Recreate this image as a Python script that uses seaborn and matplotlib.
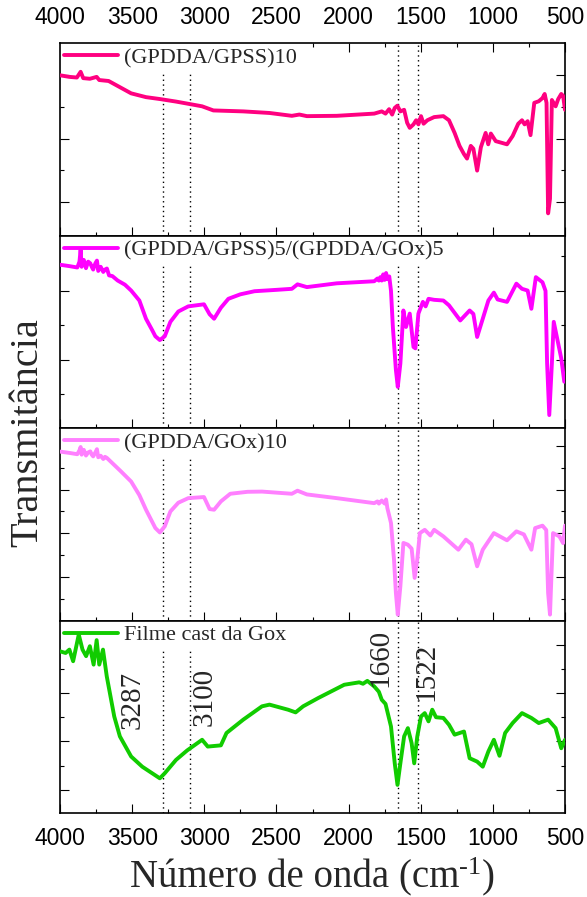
import matplotlib
matplotlib.use("Agg")
import matplotlib.pyplot as plt
import seaborn as sns
import pandas as pd
from matplotlib.ticker import MultipleLocator, FixedLocator

# ---- FTIR spectra (wavenumber in cm^-1, transmittance in arbitrary units) ----
wn_gpss10 = [4000, 3935, 3883, 3857, 3839, 3793, 3746, 3728, 3663, 3611, 3507, 3404,
             3308, 3196, 3111, 3015, 2937, 2730, 2548, 2393, 2341, 2289, 2082, 1822,
             1770, 1744, 1719, 1698, 1680, 1662, 1641, 1615, 1594, 1576, 1550, 1532,
             1516, 1498, 1480, 1454, 1407, 1343, 1304, 1265, 1231, 1200, 1179, 1153,
             1135, 1109, 1083, 1050, 1032, 1014, 980, 902, 863, 824, 798, 780, 759,
             739, 713, 682, 656, 641, 628, 617, 604, 591, 565, 547, 526, 513, 500]
t_gpss10 = [5.00, 4.95, 4.93, 5.11, 4.91, 4.89, 4.95, 4.85, 4.82, 4.69, 4.43, 4.31,
            4.25, 4.17, 4.10, 4.02, 3.89, 3.86, 3.81, 3.72, 3.76, 3.71, 3.72, 3.79,
            3.86, 3.79, 3.93, 3.76, 3.97, 4.04, 3.86, 3.91, 3.50, 3.34, 3.45, 3.58,
            3.45, 3.71, 3.47, 3.58, 3.68, 3.71, 3.58, 3.18, 2.77, 2.51, 2.37, 2.77,
            2.68, 1.99, 2.73, 3.18, 2.82, 3.16, 2.92, 2.82, 3.08, 3.47, 3.58, 3.45,
            3.55, 3.11, 4.13, 4.18, 4.28, 4.41, 4.13, 0.64, 1.10, 4.22, 4.02, 4.25,
            4.41, 4.35, 3.91]

wn_mixed = [4000, 3935, 3880, 3865, 3857, 3850, 3835, 3820, 3805, 3790, 3780, 3770,
            3755, 3744, 3735, 3718, 3700, 3688, 3675, 3660, 3637, 3600, 3550, 3507,
            3450, 3404, 3360, 3339, 3308, 3274, 3235, 3180, 3111, 3002, 2963, 2932,
            2885, 2833, 2750, 2652, 2500, 2393, 2354, 2289, 2082, 1822, 1800, 1790,
            1780, 1770, 1760, 1750, 1740, 1731, 1718, 1706, 1693, 1672, 1659, 1641,
            1620, 1602, 1576, 1550, 1537, 1516, 1485, 1466, 1446, 1407, 1343, 1304,
            1226, 1161, 1135, 1109, 1070, 1031, 993, 967, 902, 837, 798, 759, 733,
            702, 656, 635, 624, 609, 591, 578, 552, 526, 505]
t_mixed = [4.76, 4.72, 4.68, 4.85, 5.20, 4.70, 4.90, 4.66, 4.85, 4.80, 4.70, 4.62,
           4.80, 4.88, 4.58, 4.70, 4.55, 4.62, 4.65, 4.45, 4.43, 4.30, 4.18, 4.01,
           3.72, 3.19, 2.85, 2.68, 2.57, 2.68, 3.10, 3.40, 3.55, 3.61, 3.32, 3.19,
           3.51, 3.77, 3.90, 3.99, 4.03, 4.06, 4.19, 4.11, 4.22, 4.28, 4.36, 4.30,
           4.40, 4.30, 4.48, 4.32, 4.52, 4.34, 4.42, 4.00, 2.95, 1.70, 1.21, 1.89,
           3.43, 2.95, 3.34, 2.37, 2.33, 3.34, 3.68, 3.55, 3.77, 3.74, 3.72, 3.58,
           3.14, 3.43, 3.33, 2.66, 3.19, 3.72, 3.95, 3.75, 3.68, 4.21, 4.06, 4.01,
           3.48, 4.40, 4.25, 4.00, 1.89, 0.39, 1.89, 3.10, 2.57, 2.04, 1.36]

wn_gox10 = [4000, 3935, 3880, 3865, 3857, 3850, 3835, 3820, 3805, 3790, 3780, 3770,
            3755, 3744, 3735, 3718, 3700, 3688, 3675, 3637, 3580, 3507, 3450, 3404,
            3339, 3308, 3274, 3235, 3180, 3111, 3002, 2963, 2932, 2885, 2820, 2700,
            2600, 2393, 2354, 2289, 2082, 1822, 1800, 1790, 1770, 1750, 1740, 1731,
            1706, 1685, 1672, 1659, 1641, 1620, 1589, 1563, 1542, 1524, 1506, 1472,
            1433, 1407, 1343, 1239, 1187, 1148, 1109, 1070, 993, 902, 837, 785, 733,
            707, 656, 630, 617, 604, 583, 539, 513, 500]
t_gox10 = [7.74, 7.68, 7.62, 7.80, 7.95, 7.60, 7.82, 7.56, 7.70, 7.75, 7.60, 7.52,
           7.70, 7.85, 7.48, 7.55, 7.40, 7.50, 7.45, 7.21, 6.85, 6.37, 5.75, 5.08,
           4.24, 4.04, 4.32, 5.00, 5.40, 5.61, 5.66, 5.11, 5.08, 5.46, 5.81, 5.90,
           5.91, 5.81, 5.95, 5.78, 5.61, 5.38, 5.46, 5.36, 5.50, 5.36, 5.55, 5.15,
           4.47, 2.79, 1.27, 0.28, 1.58, 3.56, 3.48, 3.30, 1.96, 2.80, 4.01, 4.16,
           3.90, 4.16, 3.86, 3.25, 3.71, 3.50, 2.49, 3.25, 4.01, 3.68, 4.09, 3.95,
           3.25, 4.24, 4.35, 4.15, 1.27, 0.28, 4.01, 3.86, 3.55, 4.35]

wn_cast = [4000, 3961, 3935, 3909, 3870, 3844, 3819, 3793, 3767, 3746, 3728, 3702,
           3676, 3650, 3624, 3585, 3507, 3430, 3308, 3274, 3196, 3119, 3015, 2976,
           2885, 2846, 2730, 2600, 2548, 2419, 2367, 2315, 2211, 2030, 1926, 1900,
           1870, 1822, 1790, 1770, 1744, 1706, 1680, 1661, 1641, 1615, 1589, 1563,
           1545, 1524, 1498, 1472, 1446, 1420, 1394, 1343, 1304, 1265, 1200, 1161,
           1109, 1070, 1031, 993, 954, 915, 863, 798, 733, 682, 617, 565, 526, 500]
t_cast = [6.72, 6.65, 6.79, 6.31, 7.41, 6.79, 6.52, 6.93, 6.17, 7.18, 6.17, 6.79,
          5.69, 4.86, 4.03, 3.21, 2.38, 1.96, 1.48, 1.69, 2.24, 2.63, 3.07, 2.79,
          2.84, 3.35, 3.90, 4.45, 4.52, 4.31, 4.20, 4.45, 4.79, 5.34, 5.44, 5.38,
          5.50, 5.27, 5.05, 4.72, 4.55, 3.62, 2.10, 1.21, 2.10, 3.21, 3.55, 2.93,
          2.10, 3.20, 4.03, 4.17, 3.83, 4.31, 4.00, 3.97, 3.69, 3.28, 3.41, 2.31,
          2.17, 1.96, 2.59, 3.07, 2.41, 3.35, 3.76, 4.17, 3.97, 3.76, 3.90, 3.55,
          2.72, 3.07]

labels = ["(GPDDA/GPSS)10", "(GPDDA/GPSS)5/(GPDDA/GOx)5",
          "(GPDDA/GOx)10", "Filme cast da Gox"]
colors = ["#ff0080", "#ff00ff", "#ff80ff", "#11cc00"]
series = [(wn_gpss10, t_gpss10), (wn_mixed, t_mixed),
          (wn_gox10, t_gox10), (wn_cast, t_cast)]

# per-panel vertical range and tick layout
ylims = [(-0.06, 6.02), (0.014, 5.61), (0.01, 8.82), (0.05, 7.99)]
ymajor = [[1, 3, 5], [2, 4], [2, 4, 6, 8], [1, 3, 5, 7]]
yminor = [[2, 4], [1, 3, 5], [1, 3, 5, 7], [2, 4, 6]]

# band positions marked across all spectra
bands = [3287, 3100, 1660, 1522]
band_labels = ["3287", "3100", "1660", "1522"]
band_label_pos = [(3494, 4.72), (2995, 4.85), (1782, 6.46), (1457, 5.88)]

sns.set_theme(style="ticks")
serif = ["Liberation Serif", "DejaVu Serif"]
plt.rcParams["font.family"] = ["Liberation Sans", "DejaVu Sans"]
plt.rcParams["axes.linewidth"] = 1.2
plt.rcParams["axes.edgecolor"] = "black"

W, H = 587, 897
fig = plt.figure(figsize=(W / 100, H / 100), dpi=100)
axes = fig.subplots(4, 1, sharex=True)
fig.subplots_adjust(left=60 / W, right=565 / W,
                    top=1 - 43 / H, bottom=1 - 813 / H, hspace=0)

for i, ax in enumerate(axes):
    wn, t = series[i]
    df = pd.DataFrame({"wn": wn, "t": t})
    sns.lineplot(data=df, x="wn", y="t", ax=ax, color=colors[i], lw=2.8,
                 label=labels[i], estimator=None, sort=False, zorder=3)
    for b in bands:
        ax.axvline(b, color="black", lw=1.0, ls=(0, (1, 2.5)), zorder=1)

    ax.set_xlim(4000, 500)
    ax.set_ylim(*ylims[i])
    ax.set_xlabel("")
    ax.set_ylabel("")
    ax.xaxis.set_major_locator(MultipleLocator(500))
    ax.xaxis.set_minor_locator(MultipleLocator(250))
    ax.yaxis.set_major_locator(FixedLocator(ymajor[i]))
    ax.yaxis.set_minor_locator(FixedLocator(yminor[i]))

    ax.tick_params(axis="both", which="both", direction="in", width=0.8,
                   colors="black")
    ax.tick_params(axis="both", which="major", length=6.5)
    ax.tick_params(axis="both", which="minor", length=3.2)
    ax.tick_params(axis="y", which="both", left=True, right=True,
                   labelleft=False, labelright=False)
    ax.tick_params(axis="x", which="both", bottom=True, top=(i == 0),
                   labelbottom=(i == 3), labeltop=(i == 0),
                   labelsize=16.5, pad=10)
    for s in ax.spines.values():
        s.set_color("black")
        s.set_linewidth(1.2)

    leg = ax.legend(loc="upper left", frameon=True, facecolor="white",
                    edgecolor="none", framealpha=1, fancybox=False,
                    borderaxespad=0, borderpad=0.2, handlelength=2.4,
                    handletextpad=0.3, prop={"family": serif, "size": 16})
    leg.set_zorder(2)

for (x, y), txt in zip(band_label_pos, band_labels):
    axes[3].text(x, y, txt, rotation=90, ha="center", va="center",
                 fontsize=21, family=serif, zorder=4)

fig.text(28 / W, 1 - 433 / H, "Transmitância", rotation=90,
         ha="center", va="center", fontsize=29, family=serif)

# x-axis title with a raised "-1" exponent, laid out piece by piece
renderer = fig.canvas.get_renderer()
base_y = 1 - 887 / H
parts = [("Número de onda (cm", 28, 0), ("-1", 19, 13), (")", 28, 0)]
texts = [fig.text(0, base_y + dy / H, s, fontsize=fs, family=serif,
                  ha="left", va="baseline") for s, fs, dy in parts]
widths = [tx.get_window_extent(renderer).width for tx in texts]
x = (312 - sum(widths) / 2)
for tx, w in zip(texts, widths):
    tx.set_x(x / W)
    x += w

fig.savefig("out.png", dpi=100)
